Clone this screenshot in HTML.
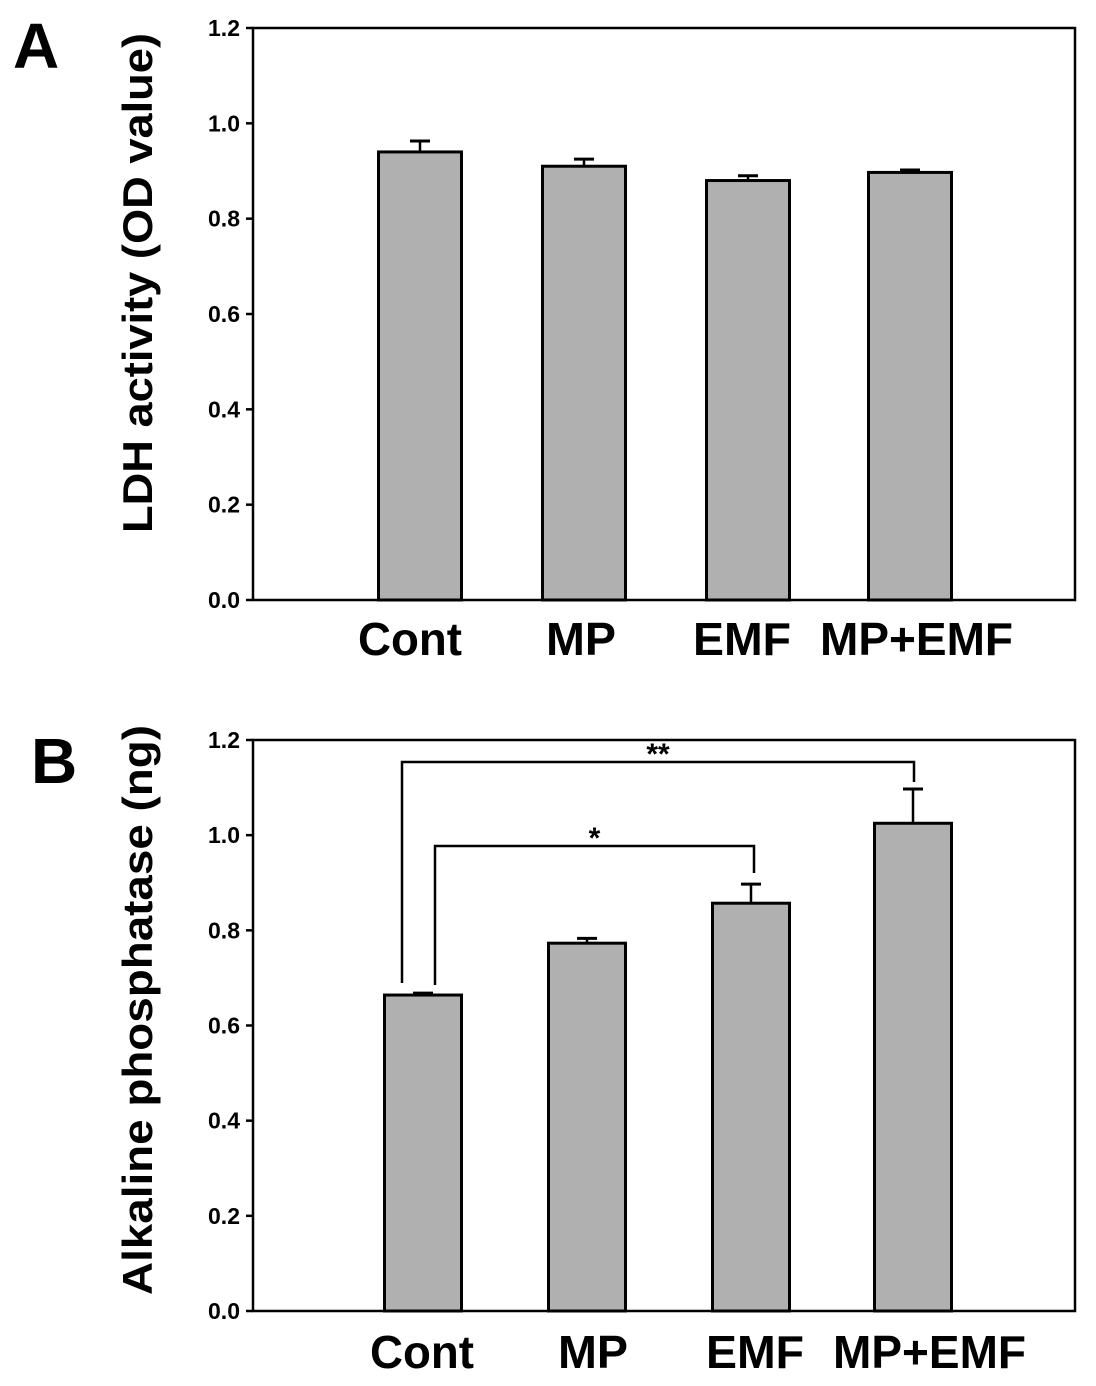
<!DOCTYPE html>
<html><head><meta charset="utf-8"><style>
html,body{margin:0;padding:0;background:#fff;}
svg{display:block;font-family:"Liberation Sans",Arial,sans-serif;font-weight:bold;}
</style></head><body>
<svg id="chart" width="1096" height="1386" viewBox="0 0 1096 1386" xmlns="http://www.w3.org/2000/svg"></svg>
<script>
const categories = ["Cont","MP","EMF","MP+EMF"];
const valuesA = [0.940, 0.910, 0.880, 0.897];
const errorsA = [0.023, 0.015, 0.010, 0.005];
const valuesB = [0.664, 0.773, 0.857, 1.025];
const errorsB = [0.004, 0.010, 0.040, 0.072];
const yTicks = ["0.0","0.2","0.4","0.6","0.8","1.0","1.2"];
const tickValues = [0,0.2,0.4,0.6,0.8,1.0,1.2];

const NS="http://www.w3.org/2000/svg";
const svg=document.getElementById('chart');
function mk(tag,attrs,parent){const e=document.createElementNS(NS,tag);for(const k in attrs)e.setAttribute(k,attrs[k]);(parent||svg).appendChild(e);return e;}

const labelWidths=[104,70,98,193];

function panel(cfg){
  const g=mk('g',{});
  
  
  const y=v=>cfg.y0-(v/1.2)*(cfg.y0-cfg.y1);
  const letter=mk('text',{x:cfg.letterX,y:cfg.letterY,'font-size':64},g);
  letter.textContent=cfg.letter;
  
  
  const frame=mk('rect',{x:253,y:cfg.y1,width:822,height:cfg.y0-cfg.y1,fill:'none',stroke:'#000','stroke-width':2.5},g);
  
  
  tickValues.forEach((v,i)=>{
    mk('line',{x1:246,x2:253,y1:y(v),y2:y(v),stroke:'#000','stroke-width':2.5},g);
    const t=mk('text',{x:240,y:y(v)+8,'font-size':23,'text-anchor':'end'},g);
    t.textContent=yTicks[i];
    
    
  });
  const yl=mk('text',{transform:`translate(${cfg.ylX},${cfg.ylC}) rotate(-90)`,'font-size':42,'text-anchor':'middle',textLength:cfg.ylLen,lengthAdjust:'spacingAndGlyphs'},g);
  yl.textContent=cfg.ylabel;
  
  
  categories.forEach((c,i)=>{
    const cx=cfg.centers[i], w=cfg.barW;
    const top=y(cfg.values[i]), et=y(cfg.values[i]+cfg.errors[i]);
    const el=mk('line',{x1:cx,x2:cx,y1:top,y2:et,stroke:'#000','stroke-width':2.5},g);
    
    
    mk('line',{x1:cx-10,x2:cx+10,y1:et,y2:et,stroke:'#000','stroke-width':3},g);
    const b=mk('rect',{x:cx-w/2,y:top,width:w,height:cfg.y0-top,fill:'#b0b0b0',stroke:'#000','stroke-width':3},g);
    
    
    const t=mk('text',{x:cfg.labelX[i],y:cfg.labelY,'font-size':46,textLength:labelWidths[i],lengthAdjust:'spacingAndGlyphs'},g);
    t.textContent=c;
    
    
  });
  return {g,y};
}

panel({name:'panel-a',letter:'A',letterX:13,letterY:68,y0:600,y1:28,ylabel:'LDH activity (OD value)',ylX:152,ylC:283,ylLen:500,
  centers:[420,584,748,910],barW:83,values:valuesA,errors:errorsA,labelX:[358,546,693,820],labelY:655});

const pb=panel({name:'panel-b',letter:'B',letterX:31,letterY:783,y0:1311,y1:740,ylabel:'Alkaline phosphatase (ng)',ylX:152,ylC:1010,ylLen:570,
  centers:[423,587,751,913],barW:77,values:valuesB,errors:errorsB,labelX:[370,558,706,833],labelY:1368});

function bracket(x1,x2,yTop,yL,yR,label){
  const p=mk('path',{d:`M${x1},${yL} L${x1},${yTop} L${x2},${yTop} L${x2},${yR}`,fill:'none',stroke:'#000','stroke-width':2.5},pb.g);
  
  
  const t=mk('text',{x:(x1+x2)/2,y:yTop+2,'font-size':30,'text-anchor':'middle'},pb.g);
  t.textContent=label;
  
  
}
bracket(402,914,762,983,782,'**');
bracket(435,754,846,985,873,'*');
</script>
</body></html>
